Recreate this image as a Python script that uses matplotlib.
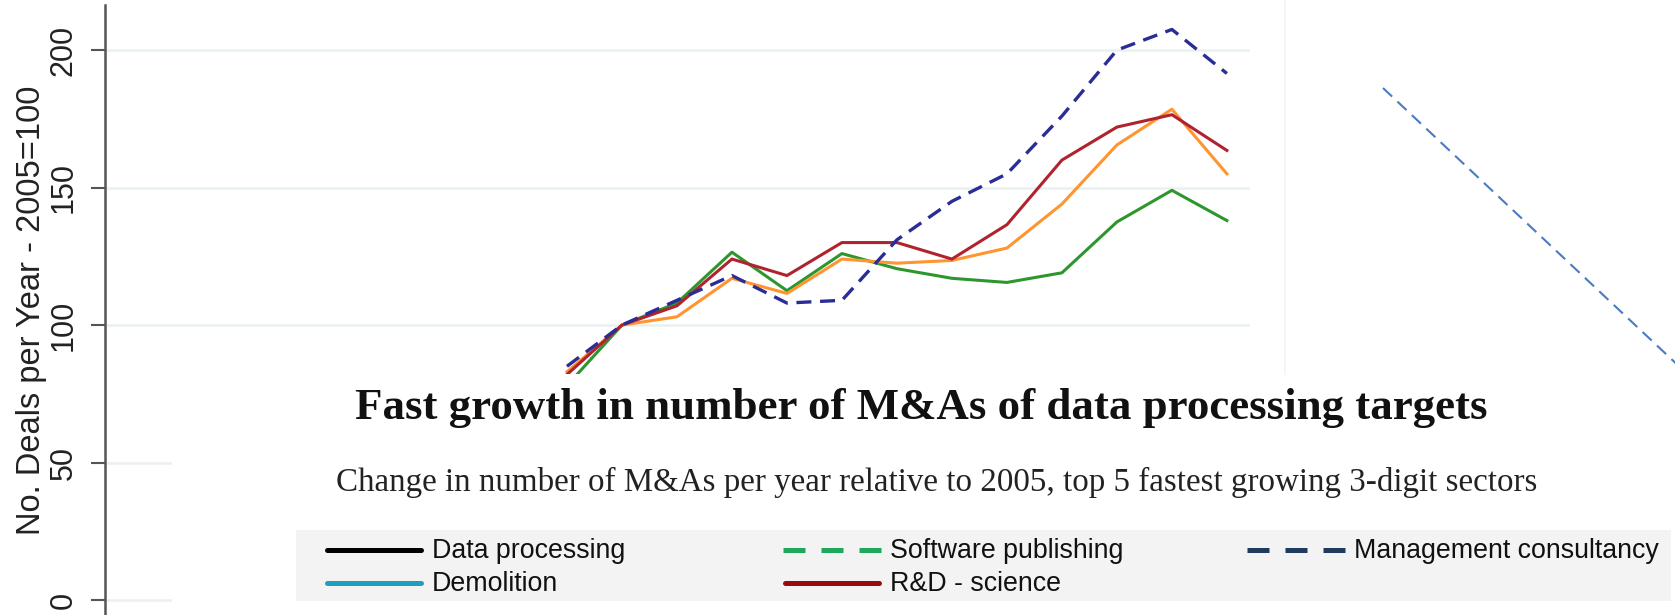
import matplotlib
matplotlib.use("Agg")
from matplotlib import pyplot as plt
from matplotlib.patches import Rectangle
import numpy as np

W, H = 1675, 615

years = [2004, 2005, 2006, 2007, 2008, 2009, 2010, 2011, 2012, 2013, 2014, 2015, 2016]
mgmt_dashed = [85, 100, 109, 118, 108, 109, 131, 145, 155, 176, 200, 207.5, 191.5]
red_series = [82, 100, 107, 124, 118, 130, 130, 124, 136.5, 160, 172, 176.5, 163.5]
orange_series = [83, 100, 103, 117, 111.5, 124, 122.5, 123.5, 128, 144, 165.5, 178.5, 155]
green_series = [78, 100, 108, 126.5, 112.5, 126, 120.5, 117, 115.5, 119, 137.5, 149, 138]

yticks = [0, 50, 100, 150, 200]
ylabel = "No. Deals per Year - 2005=100"
title = "Fast growth in number of M&As of data processing targets"
subtitle = "Change in number of M&As per year relative to 2005, top 5 fastest growing 3-digit sectors"
legend_names = ["Data processing", "Demolition", "Software publishing", "R&D - science",
                "Management consultancy"]
legend_colors = ["#000000", "#1f9fc0", "#1fa85c", "#980c0c", "#1e3a5c"]
legend_dashed = [False, False, True, False, True]

fig = plt.figure(figsize=(W / 100, H / 100), dpi=100)
fig.patch.set_facecolor("white")

# main stata-like plot, axis spans the whole height
ax = fig.add_axes([105 / W, 0, (1250 - 105) / W, 610 / H])
ax.set_ylim(-5.45, 216.4)
ax.set_xlim(1995.6, 2016.42)
ax.set_facecolor("none")
for s in ("top", "right", "bottom"):
    ax.spines[s].set_visible(False)
ax.spines["left"].set_color("#555555")
ax.spines["left"].set_linewidth(1.8)
ax.set_xticks([])
ax.set_yticks(yticks)
ax.set_yticklabels([str(t) for t in yticks], rotation=90, va="center",
                   fontsize=22, family="Liberation Sans", color="#222222")
ax.tick_params(axis="y", length=10, width=1.5, color="#555555", pad=9)
ax.set_ylabel(ylabel, fontsize=23.5, family="Liberation Sans", color="#222222", labelpad=1)
ax.yaxis.grid(True, color="#e9f0f0", linewidth=1.8)
ax.set_axisbelow(True)

ax.plot(years, green_series, color="#2e962e", lw=2.2)
ax.plot(years, orange_series, color="#ff9530", lw=2.2)
ax.plot(years, red_series, color="#b0232e", lw=2.2)
ax.plot(years, mgmt_dashed, color="#2b2d96", lw=2.4, dashes=(4.5, 2.6))

# overlay in pixel coordinates for the slide parts
ov = fig.add_axes([0, 0, 1, 1], zorder=5)
ov.set_xlim(0, W)
ov.set_ylim(H, 0)
ov.axis("off")
ov.patch.set_alpha(0)

ov.plot([1285, 1285], [0, 374], color="#f3f3f3", lw=1.2)
ov.add_patch(Rectangle((172, 374), W - 172, H - 374, facecolor="white", edgecolor="none"))
ov.plot([1383, 1700], [88, 386], color="#4a7bc2", lw=1.5, dashes=(6, 3.5))

ov.text(921, 408, title, ha="center", va="center", fontsize=32.3, fontweight="bold",
        family="Liberation Serif", color="#111111")
ov.text(937, 482, subtitle, ha="center", va="center", fontsize=23.8,
        family="Liberation Serif", color="#222222")

# legend strip
ov.add_patch(Rectangle((296, 530), 1671 - 296, 71, facecolor="#f3f3f3", edgecolor="none"))
col_x = [325, 325, 783, 783, 1247]
row_y = [550, 583, 550, 583, 550]
for name, c, d, x, y in zip(legend_names, legend_colors, legend_dashed, col_x, row_y):
    if d:
        ov.plot([x, x + 98], [y, y], color=c, lw=3.6, dashes=(4.4, 3.2),
                dash_capstyle="butt")
    else:
        ov.plot([x + 2, x + 96], [y, y], color=c, lw=3.6, solid_capstyle="round")
    ov.text(x + 107, y + 1, name, ha="left", va="center", fontsize=19.3,
            family="Liberation Sans", color="#111111")

fig.savefig("out.png", dpi=100, facecolor="white")
